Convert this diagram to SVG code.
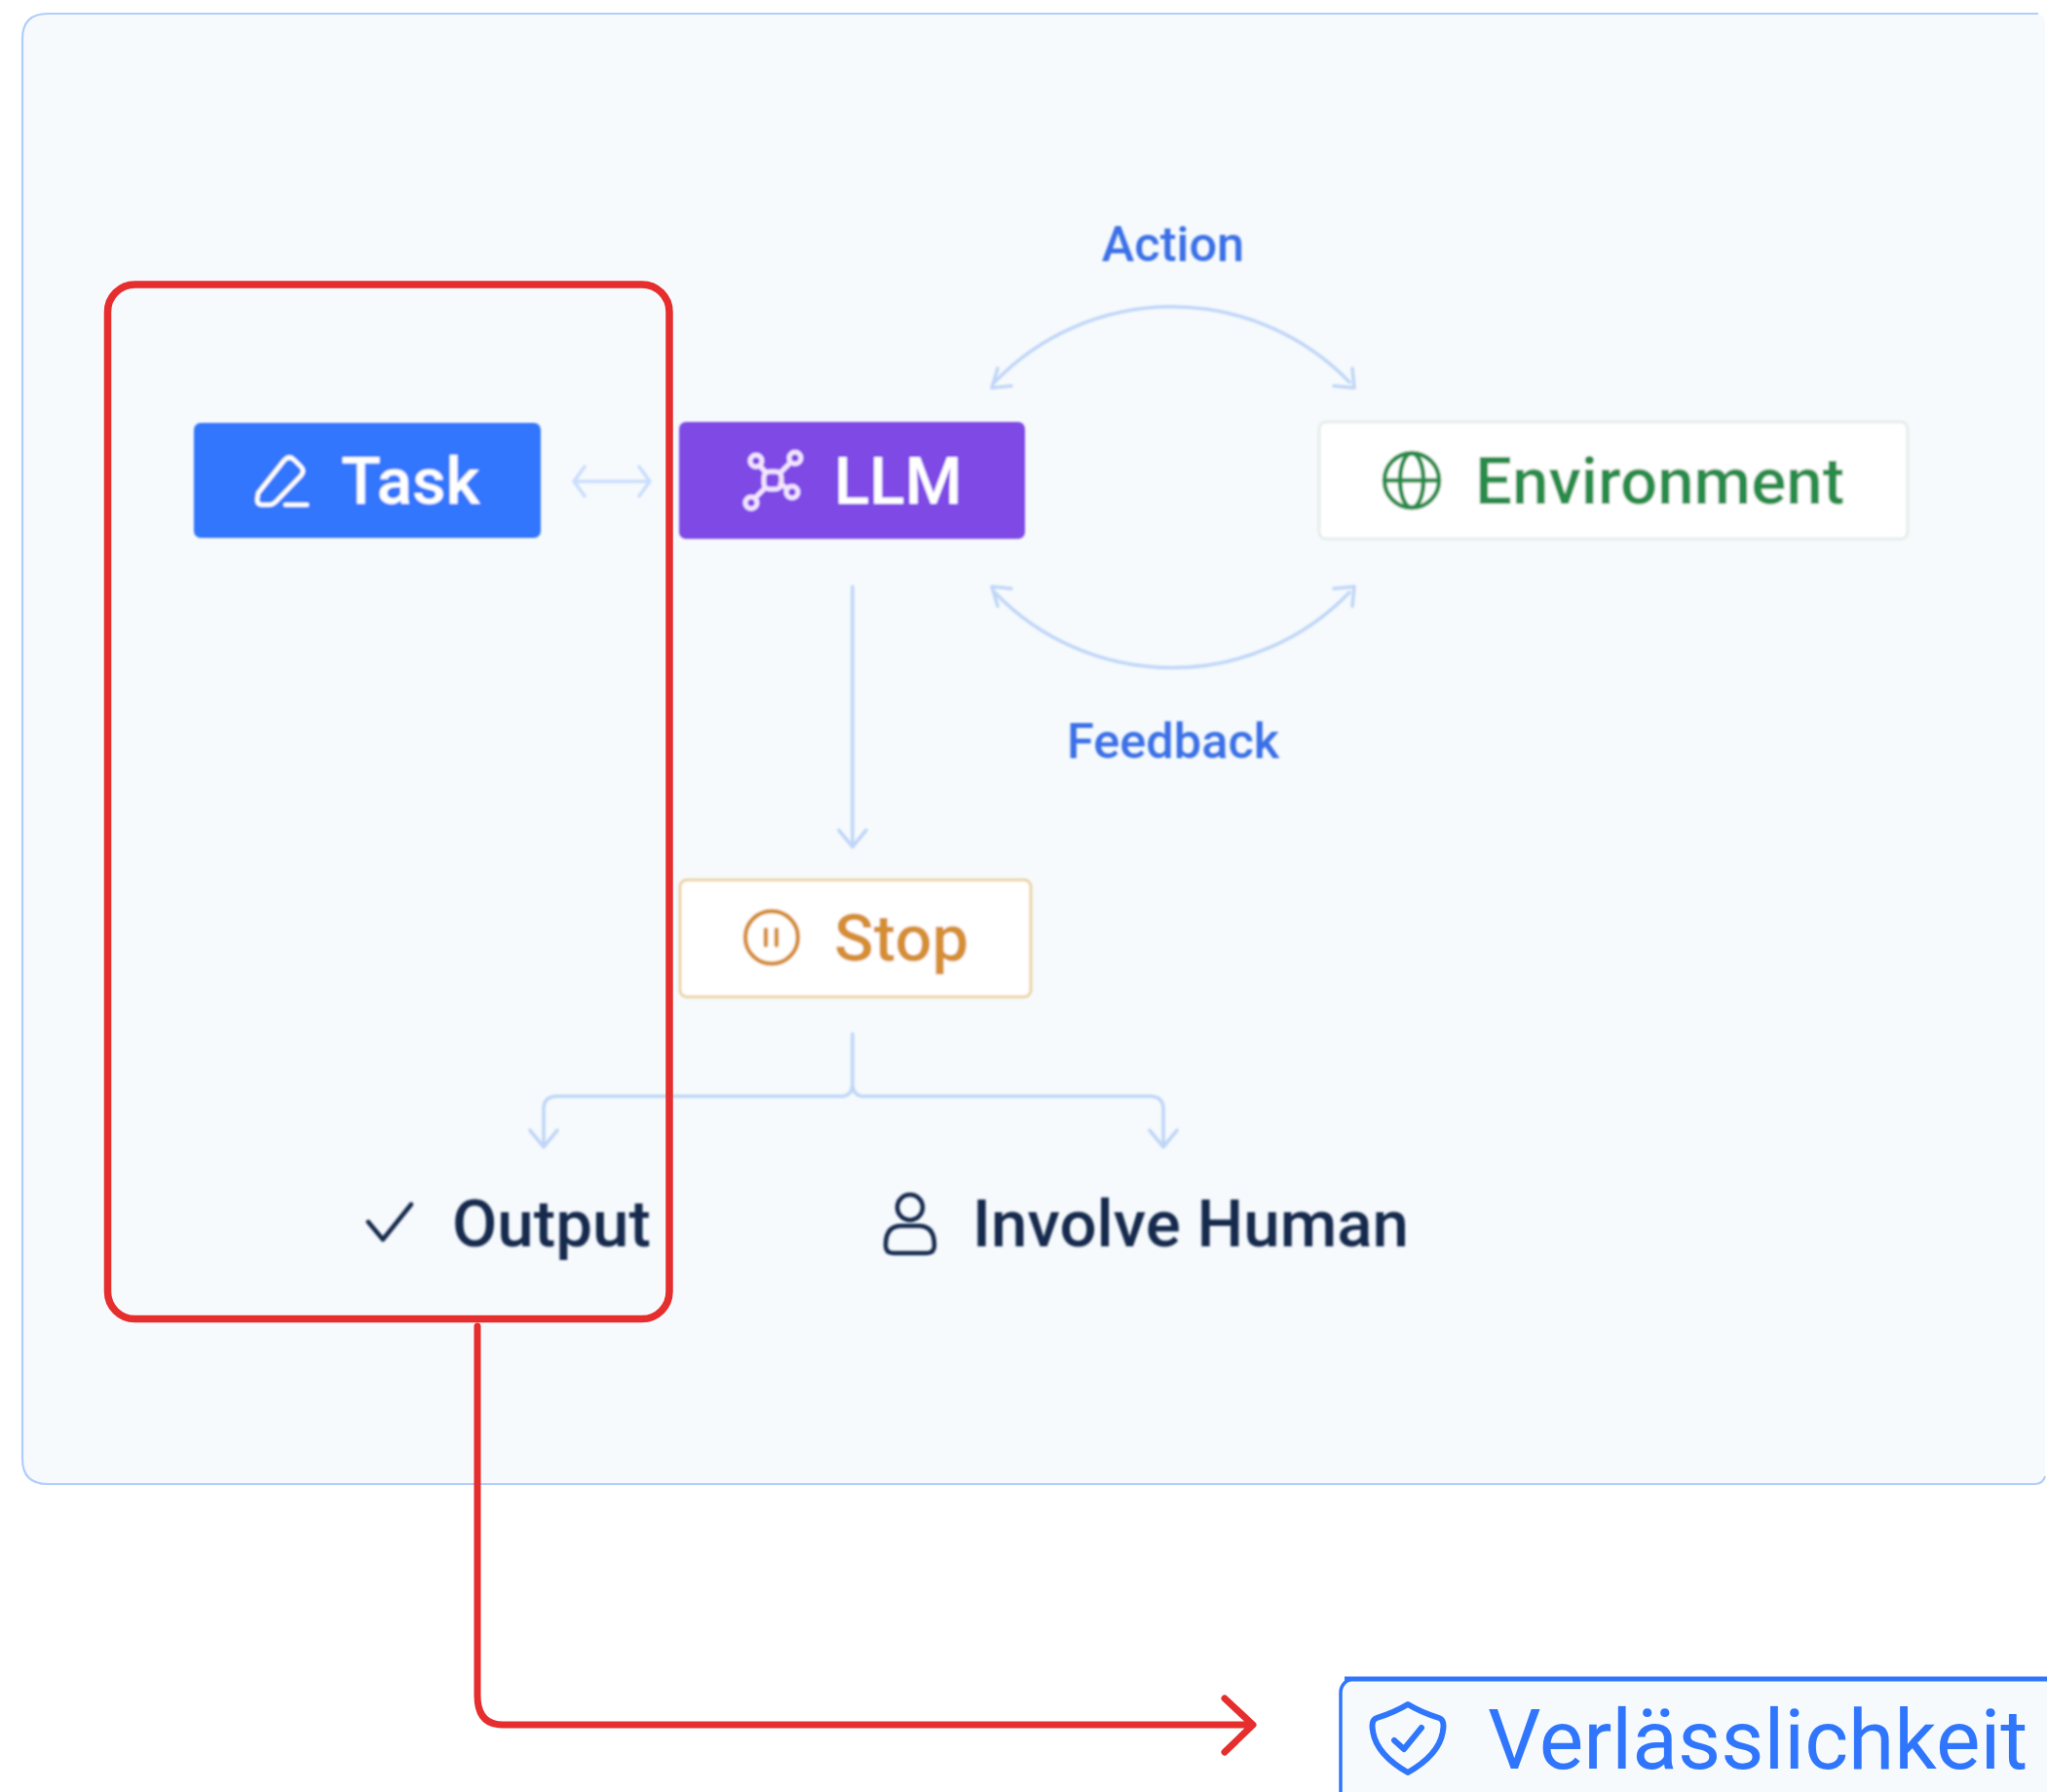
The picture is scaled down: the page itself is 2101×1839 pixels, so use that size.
<svg xmlns="http://www.w3.org/2000/svg" width="2101" height="1839" viewBox="0 0 2101 1839">
<defs>
<style>
text{font-family:Roboto,"Liberation Sans",sans-serif;font-weight:500}
.lab{font-size:50.5px;fill:#3a70e6;text-anchor:middle}
.nm{font-size:67.3px}
.ln{fill:none;stroke:#c0d6f7;stroke-width:3.6;stroke-linecap:round;stroke-linejoin:round}
.ic{fill:none;stroke-width:4.5;stroke-linecap:round;stroke-linejoin:round}
.soft{filter:url(#b)}
</style>
<filter id="b" filterUnits="userSpaceOnUse" x="0" y="0" width="2101" height="1839"><feGaussianBlur stdDeviation="0.8"/></filter>
</defs>
<rect width="2101" height="1839" fill="#fff"/>
<path id="panel" d="M2092 14H49Q23 14 23 40V1497Q23 1523 49 1523H2088Q2098 1523 2099 1513V24Q2099 16 2092 14Z" fill="#f6fafd"/>
<path id="panel-border" d="M2092 14H49Q23 14 23 40V1497Q23 1523 49 1523H2088Q2097 1523 2099 1515" fill="none" stroke="#b0cdfb" stroke-width="2.2"/>
<g id="connectors" class="soft">
<path class="ln" style="stroke:#c9defd" d="M590 494H666M600 479L589 494L600 509M656 479L667 494L656 509"/>
<path class="ln" d="M1021 392A253 253 0 0 1 1385 392M1018 398L1024 378M1018 398L1038 396M1390 398L1388 378M1390 398L1369 396"/>
<path class="ln" d="M1021 608A253 253 0 0 0 1385 608M1018 602L1038 604M1018 602L1024 622M1390 602L1369 604M1390 602L1388 622"/>
<path class="ln" d="M875 602V868M861 852L875 869L889 852"/>
<path class="ln" d="M875 1061V1112Q875 1123 866 1125H572Q558 1125 558 1138V1176M544 1160L558 1177L572 1160M875 1112Q875 1123 884 1125H1180Q1194 1125 1194 1138V1176M1180 1160L1194 1177L1208 1160"/>
</g>
<g id="task" class="soft"><rect x="199" y="434" width="356" height="118" rx="7" fill="#3076fd"/>
<path class="ic" stroke="#fff" d="M265 506L292 472Q297 467 302 472L309 479Q313 483 309 488L283 515Q280 518 276 518H269Q264 518 264 513ZM293 518H315"/>
<text class="nm" x="350" y="517" fill="#fff">Task</text></g>
<g id="llm" class="soft"><rect x="697" y="433" width="355" height="120" rx="7" fill="#7f4ae6"/>
<g class="ic" stroke="#f3e4ff" style="stroke-width:5"><rect x="784" y="484" width="18" height="18" rx="6"/><circle cx="776" cy="473" r="6"/><circle cx="816" cy="470" r="6"/><circle cx="813" cy="505" r="6"/><circle cx="771" cy="516" r="6"/><path d="M780 478L786 485M811 475L801 485M808 501L801 497M775 511L785 501"/></g>
<text class="nm" x="856" y="517" fill="#fff">LLM</text></g>
<g id="environment" class="soft"><rect x="1354" y="433" width="604" height="120" rx="7" fill="#fff" stroke="#e5ede9" stroke-width="3"/>
<g class="ic" stroke="#258c48"><circle cx="1449" cy="493" r="28"/><ellipse cx="1449" cy="493" rx="12" ry="28"/><path d="M1421 493H1477"/></g>
<text class="nm" x="1514" y="517" fill="#258c48">Environment</text></g>
<g id="stop" class="soft"><rect x="698" y="903" width="360" height="120" rx="7" fill="#fff" stroke="#ecd3a5" stroke-width="3"/>
<g class="ic" stroke="#d58e30"><circle cx="792" cy="962" r="27"/><path d="M786 954V970M797 954V970"/></g>
<text class="nm" x="856" y="986" fill="#d58e30">Stop</text></g>
<g id="output" class="soft"><path class="ic" stroke="#16294d" d="M378 1254L393 1272L422 1236"/>
<text class="nm" x="464" y="1279" fill="#16294d">Output</text></g>
<g id="involve-human" class="soft"><g class="ic" stroke="#16294d"><circle cx="934" cy="1239" r="13"/><path d="M909 1278Q909 1258 925 1258H943Q959 1258 959 1278Q959 1286 951 1286H917Q909 1286 909 1278Z"/></g>
<text class="nm" x="998" y="1279" fill="#16294d">Involve Human</text></g>
<g id="action" class="soft"><text class="lab" x="1204" y="268">Action</text></g>
<g id="feedback" class="soft"><text class="lab" x="1204" y="778">Feedback</text></g>
<rect id="highlight" x="110.5" y="292" width="576.5" height="1061.5" rx="28" fill="none" stroke="#e62e2e" stroke-width="7.5"/>
<g id="red-connector"><path d="M490 1361V1740Q490 1770 516 1770H1284M1257 1743L1286 1770L1257 1798" fill="none" stroke="#e62e2e" stroke-width="7" stroke-linecap="round" stroke-linejoin="round"/></g>
<g id="reliability"><rect x="1376" y="1723" width="760" height="160" rx="14" fill="#f6fafd" stroke="#3076fd" stroke-width="3.5"/><path d="M1380 1723H2101" stroke="#3076fd" stroke-width="5"/>
<path class="ic" stroke="#3076fd" style="stroke-width:6" d="M1445 1749Q1458 1757 1477 1763Q1483 1765 1481 1776Q1478 1800 1445 1819Q1412 1800 1409 1776Q1407 1765 1413 1763Q1432 1757 1445 1749ZM1431 1786L1441 1795L1459 1773"/>
<text x="1527" y="1815" font-size="85.8" style="font-weight:400" fill="#3076fd">Verlässlichkeit</text></g>
</svg>
